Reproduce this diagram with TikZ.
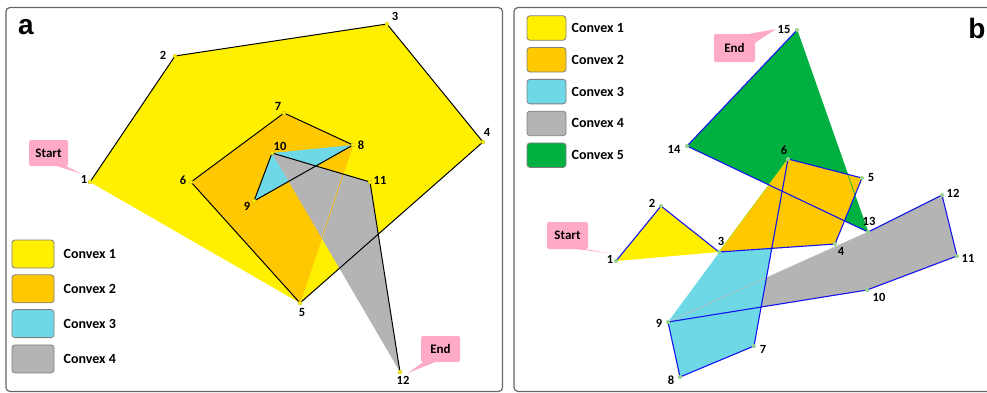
\documentclass[tikz,border=0pt]{standalone}
\usepackage{fontspec}
\setmainfont{Carlito}
\newfontfamily\panelfont{Liberation Sans}
\usetikzlibrary{positioning,calc}
\definecolor{cvxone}{RGB}{255,240,0}
\definecolor{cvxtwo}{RGB}{255,200,0}
\definecolor{cvxthree}{RGB}{110,216,230}
\definecolor{cvxfour}{RGB}{180,180,180}
\definecolor{cvxfive}{RGB}{0,176,64}
\definecolor{calloutpink}{RGB}{255,170,200}
\definecolor{pathblue}{RGB}{20,20,240}
\definecolor{dotgreen}{RGB}{150,210,140}

\begin{document}
\begin{tikzpicture}[x=1pt, y=-1pt,
	panel/.style={draw=black!60, line width=1.2pt, rounded corners=4pt},
	num/.style={font=\fontsize{12.5}{14}\selectfont\bfseries, inner sep=0pt},
	key/.style={draw=black!50, line width=0.8pt, rounded corners=3pt, fill=#1},
	keytext/.style={font=\fontsize{14}{16}\selectfont\bfseries, inner sep=0pt, anchor=west},
	callout/.style={fill=calloutpink, rounded corners=2pt, font=\fontsize{13}{15}\selectfont\bfseries, minimum width=40pt, minimum height=27pt},
	adot/.style={fill=cvxone, draw=yellow!70!black, line width=0.3pt},
	bdot/.style={fill=dotgreen}]
	\useasboundingbox (0,0) rectangle (987,392);

	% Panels

	\draw[panel] (6,7.5) rectangle (502.5,391.5);
	\draw[panel] (990,7.5) -- (514,7.5) -- (514,391.5) -- (990,391.5);
	\node[font=\panelfont\fontsize{28}{30}\selectfont\bfseries, inner sep=0pt] (taga) at (26,27) {a};
	\node[font=\panelfont\fontsize{28}{30}\selectfont\bfseries, inner sep=0pt] (tagb) at (977,28) {b};

	% Points of panel a

	\coordinate (a1) at (90,182); \coordinate (a2) at (175,56);
	\coordinate (a3) at (387,24); \coordinate (a4) at (483,142);
	\coordinate (a5) at (300,303); \coordinate (a6) at (191,182);
	\coordinate (a7) at (284,113); \coordinate (a8) at (353,145);
	\coordinate (a9) at (254,201); \coordinate (a10) at (272,153);
	\coordinate (a11) at (370,182); \coordinate (a12) at (400,372);

	\fill[cvxone] (a1) -- (a2) -- (a3) -- (a4) -- (a5) -- cycle;
	\fill[cvxtwo] (a5) -- (a6) -- (a7) -- (a8) -- cycle;
	\fill[cvxthree] (a8) -- (a9) -- (a10) -- cycle;
	\fill[cvxfour] (a10) -- (a11) -- (a12) -- cycle;
	\draw[cvxtwo, line width=0.6pt] (a5) -- (a8);
	\draw[line width=1pt] (a1) -- (a2) -- (a3) -- (a4) -- (a5) -- (a6) -- (a7) -- (a8) -- (a9) -- (a10) -- (a11) -- (a12);
	\fill[adot] (a1) circle (2pt); \fill[adot] (a2) circle (2pt); \fill[adot] (a3) circle (2pt);
	\fill[adot] (a4) circle (2pt); \fill[adot] (a5) circle (2pt); \fill[adot] (a6) circle (2pt);
	\fill[adot] (a7) circle (2pt); \fill[adot] (a8) circle (2pt); \fill[adot] (a9) circle (2pt);
	\fill[adot] (a10) circle (2pt); \fill[adot] (a11) circle (2pt); \fill[adot] (a12) circle (2pt);

	\node[num] (la1) at (84,179) {1}; \node[num] (la2) at (163,55) {2};
	\node[num] (la3) at (395,16) {3}; \node[num] (la4) at (487,132) {4};
	\node[num] (la5) at (302,312) {5}; \node[num] (la6) at (183,180) {6};
	\node[num] (la7) at (278,106) {7}; \node[num] (la8) at (361,145) {8};
	\node[num] (la9) at (247,206) {9}; \node[num] (la10) at (280,146) {10};
	\node[num] (la11) at (380,180) {11}; \node[num] (la12) at (403,380) {12};

	% Callouts of panel a

	\node[callout, minimum width=39pt, minimum height=26pt] (starta) at (48.5,153) {Start};
	\coordinate (startatip) at (82,174);
	\fill[calloutpink] ($(starta.south east)+(-11,0)$) -- ($(starta.south east)+(-2,0)$) -- (startatip) -- cycle;
	\node[callout, minimum width=39pt, minimum height=26pt] (enda) at (440.5,349) {End};
	\coordinate (endatip) at (408,373);
	\fill[calloutpink] ($(enda.south west)+(2,0)$) -- ($(enda.south west)+(14,0)$) -- (endatip) -- cycle;

	% Legend of panel a

	\node[key=cvxone, minimum width=42pt, minimum height=28pt] (ka1) at (33,254) {};
	\node[key=cvxtwo, minimum width=42pt, minimum height=28pt, below=6pt of ka1] (ka2) {};
	\node[key=cvxthree, minimum width=42pt, minimum height=28pt, below=6pt of ka2] (ka3) {};
	\node[key=cvxfour, minimum width=42pt, minimum height=28pt, below=6.5pt of ka3] (ka4) {};
	\node[keytext, right=9pt of ka1] (ta1) {Convex 1};
	\node[keytext, right=9pt of ka2] (ta2) {Convex 2};
	\node[keytext, right=9pt of ka3] (ta3) {Convex 3};
	\node[keytext, right=9pt of ka4] (ta4) {Convex 4};

	% Points of panel b

	\coordinate (b1) at (616,261); \coordinate (b2) at (661,206);
	\coordinate (b3) at (719,252); \coordinate (b4) at (835,244);
	\coordinate (b5) at (862,178); \coordinate (b6) at (788,159);
	\coordinate (b7) at (754,346); \coordinate (b8) at (680,377);
	\coordinate (b9) at (668,322); \coordinate (b10) at (867,290);
	\coordinate (b11) at (957,256); \coordinate (b12) at (942,195);
	\coordinate (b13) at (868,232); \coordinate (b14) at (687,146);
	\coordinate (b15) at (797,30);

	\fill[cvxfive] (b13) -- (b14) -- (b15) -- cycle;
	\fill[cvxfour] (b9) -- (b10) -- (b11) -- (b12) -- (b13) -- cycle;
	\fill[cvxthree] (b6) -- (b7) -- (b8) -- (b9) -- cycle;
	\fill[cvxtwo] (b3) -- (b4) -- (b5) -- (b6) -- cycle;
	\fill[cvxone] (b1) -- (b2) -- (b3) -- cycle;
	\draw[cvxfour!85!white, line width=0.6pt] (b9) -- (b13);
	\draw[cvxfive, line width=0.6pt] (b15) -- (b13);
	\draw[cvxone!70!cvxfive, line width=0.6pt] (b3) -- (b6);
	\draw[pathblue, line width=1.1pt] (b1) -- (b2) -- (b3) -- (b4) -- (b5) -- (b6) -- (b7) -- (b8) -- (b9) -- (b10) -- (b11) -- (b12) -- (b13) -- (b14) -- (b15);
	\fill[bdot] (b1) circle (2pt); \fill[bdot] (b2) circle (2pt); \fill[bdot] (b3) circle (2pt);
	\fill[bdot] (b4) circle (2pt); \fill[bdot] (b5) circle (2pt); \fill[bdot] (b6) circle (2pt);
	\fill[bdot] (b7) circle (2pt); \fill[bdot] (b8) circle (2pt); \fill[bdot] (b9) circle (2pt);
	\fill[bdot] (b10) circle (2pt); \fill[bdot] (b11) circle (2pt); \fill[bdot] (b12) circle (2pt);
	\fill[bdot] (b13) circle (2pt); \fill[bdot] (b14) circle (2pt); \fill[bdot] (b15) circle (2pt);

	\node[num] (lb1) at (610,259) {1}; \node[num] (lb2) at (652,203) {2};
	\node[num] (lb3) at (721,241) {3}; \node[num] (lb4) at (841,251) {4};
	\node[num] (lb5) at (871,177) {5}; \node[num] (lb6) at (784,150) {6};
	\node[num] (lb7) at (763,349) {7}; \node[num] (lb8) at (671,380) {8};
	\node[num] (lb9) at (659,323) {9}; \node[num] (lb10) at (879,297) {10};
	\node[num] (lb11) at (968,258) {11}; \node[num] (lb12) at (953,193) {12};
	\node[num] (lb13) at (869,221) {13}; \node[num] (lb14) at (674,149) {14};
	\node[num] (lb15) at (784,29) {15};

	% Callouts of panel b

	\node[callout, minimum width=41pt] (startb) at (567.5,235.5) {Start};
	\coordinate (startbtip) at (608,253);
	\fill[calloutpink] ($(startb.south east)+(-12,0)$) -- ($(startb.south east)+(-2,0)$) -- (startbtip) -- cycle;
	\node[callout, minimum width=41pt, minimum height=28pt] (endb) at (734.5,48) {End};
	\coordinate (endbtip) at (776,29);
	\fill[calloutpink] ($(endb.north east)+(-6,0)$) -- ($(endb.north east)+(0,9)$) -- (endbtip) -- cycle;

	% Legend of panel b

	\node[key=cvxone, minimum width=39pt, minimum height=24.5pt] (kb1) at (546.5,28) {};
	\node[key=cvxtwo, minimum width=39pt, minimum height=24.5pt, below=6.5pt of kb1] (kb2) {};
	\node[key=cvxthree, minimum width=39pt, minimum height=24.5pt, below=6.5pt of kb2] (kb3) {};
	\node[key=cvxfour, minimum width=39pt, minimum height=24.5pt, below=6.5pt of kb3] (kb4) {};
	\node[key=cvxfive, minimum width=39pt, minimum height=24.5pt, below=6.5pt of kb4] (kb5) {};
	\node[keytext, right=5pt of kb1] (tb1) {Convex 1};
	\node[keytext, right=5pt of kb2] (tb2) {Convex 2};
	\node[keytext, right=5pt of kb3] (tb3) {Convex 3};
	\node[keytext, right=5pt of kb4] (tb4) {Convex 4};
	\node[keytext, right=5pt of kb5] (tb5) {Convex 5};
\end{tikzpicture}
\end{document}
